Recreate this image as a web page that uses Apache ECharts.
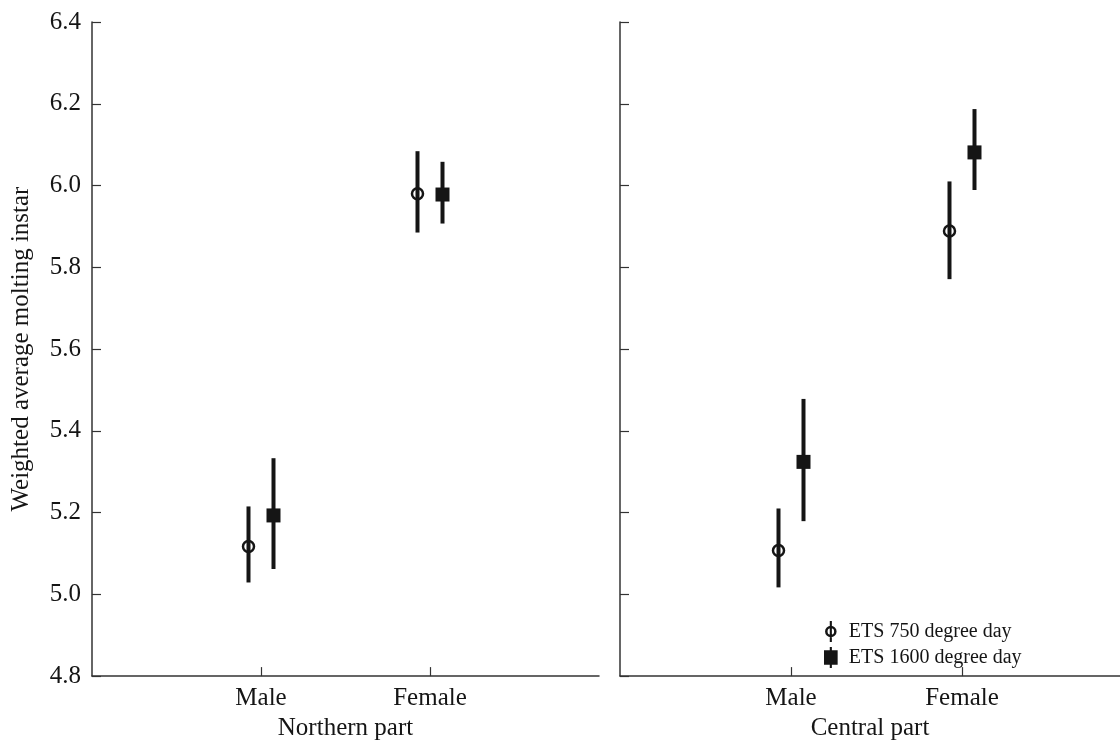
<!DOCTYPE html>
<html>
<head>
<meta charset="utf-8">
<script src="https://cdn.jsdelivr.net/npm/echarts@6/dist/echarts.min.js"></script>
<style>
  html, body { margin: 0; padding: 0; background: #fff; }
  #main { width: 1120px; height: 746px; }
</style>
</head>
<body>
<div id="main"></div>
<script>
// categories on the x axis (placed at 1 and 2)
var categories = ['Male', 'Female'];
var yTicks = [4.8, 5.0, 5.2, 5.4, 5.6, 5.8, 6.0, 6.2, 6.4];

// Northern part
var northMean750 = [5.117, 5.980];
var northLow750 = [5.029, 5.885];
var northHigh750 = [5.215, 6.084];
var northMean1600 = [5.193, 5.978];
var northLow1600 = [5.062, 5.907];
var northHigh1600 = [5.333, 6.058];

// Central part
var centralMean750 = [5.107, 5.889];
var centralLow750 = [5.017, 5.771];
var centralHigh750 = [5.210, 6.010];
var centralMean1600 = [5.324, 6.081];
var centralLow1600 = [5.179, 5.989];
var centralHigh1600 = [5.478, 6.187];

var serif = 'Liberation Serif';
var ink = '#151515';

function rows(mean, low, high) {
  return categories.map(function (c, i) {
    return [i + 1, mean[i], low[i], high[i]];
  });
}

// error bar + marker, shifted sideways by a few pixels
function makeRender(offset, kind) {
  return function (params, api) {
    var pm = api.coord([api.value(0), api.value(1)]);
    var pl = api.coord([api.value(0), api.value(2)]);
    var ph = api.coord([api.value(0), api.value(3)]);
    var cx = pm[0] + offset;
    var children = [{
      type: 'line',
      shape: { x1: cx, y1: ph[1], x2: cx, y2: pl[1] },
      style: { stroke: ink, lineWidth: 4 }
    }];
    if (kind === 'circle') {
      children.push({
        type: 'circle',
        shape: { cx: cx, cy: pm[1], r: 5.5 },
        style: { fill: null, stroke: ink, lineWidth: 2.5 }
      });
    } else {
      children.push({
        type: 'rect',
        shape: { x: cx - 7, y: pm[1] - 7, width: 14, height: 14 },
        style: { fill: ink }
      });
    }
    return { type: 'group', children: children };
  };
}

var iconCircle = 'path://M0 10A5.5 5.5 0 1 1 11 10A5.5 5.5 0 1 1 0 10Z M2.4 10A3.1 3.1 0 1 0 8.6 10A3.1 3.1 0 1 0 2.4 10Z M4.5 0L6.5 0L6.5 20L4.5 20Z';
var iconSquare = 'path://M5.5 0L7.5 0L7.5 3L13 3L13 17L7.5 17L7.5 20L5.5 20L5.5 17L0 17L0 3L5.5 3Z';

function xAxisFor(idx, max, name) {
  return {
    type: 'value', gridIndex: idx, min: 0, max: max, interval: 1,
    name: name, nameLocation: 'middle', nameGap: 38,
    nameTextStyle: { fontFamily: serif, fontSize: 25, color: ink },
    axisLine: { show: true, onZero: false, lineStyle: { color: '#333', width: 1.5 } },
    axisTick: { show: true, inside: true, length: 9, customValues: [1, 2], lineStyle: { color: '#333', width: 1.2 } },
    axisLabel: {
      customValues: [1, 2], margin: 10,
      fontFamily: serif, fontSize: 25, color: ink,
      formatter: function (v) { return categories[Math.round(v) - 1] || ''; }
    },
    splitLine: { show: false }
  };
}

function yAxisFor(idx, showLabels) {
  return {
    type: 'value', gridIndex: idx, min: yTicks[0], max: yTicks[yTicks.length - 1], interval: 0.2,
    name: showLabels ? 'Weighted average molting instar' : '',
    nameLocation: 'middle', nameGap: 58,
    nameTextStyle: { fontFamily: serif, fontSize: 25, color: ink },
    axisLine: { show: true, onZero: false, lineStyle: { color: '#333', width: 1.5 } },
    axisTick: { show: true, inside: true, length: 9, lineStyle: { color: '#333', width: 1.2 } },
    axisLabel: {
      show: showLabels, margin: 11,
      fontFamily: serif, fontSize: 25, color: ink,
      formatter: function (v) { return v.toFixed(1); }
    },
    splitLine: { show: false }
  };
}

var chart = echarts.init(document.getElementById('main'));
var option = {
  animation: false,
  backgroundColor: '#fff',
  grid: [
    { left: 92, top: 22, width: 507, height: 656 },
    { left: 620, top: 22, width: 500, height: 656 }
  ],
  xAxis: [
    xAxisFor(0, 3, 'Northern part'),
    xAxisFor(1, 2.924, 'Central part')
  ],
  yAxis: [
    yAxisFor(0, true),
    yAxisFor(1, false)
  ],
  legend: {
    orient: 'vertical',
    left: 819, top: 616,
    itemWidth: 26, itemHeight: 21, itemGap: 5,
    textStyle: { fontFamily: serif, fontSize: 20, color: ink, lineHeight: 21 },
    data: [
      { name: 'ETS 750 degree day', icon: iconCircle, itemStyle: { color: ink } },
      { name: 'ETS 1600 degree day', icon: iconSquare, itemStyle: { color: ink } }
    ]
  },
  series: [
    { name: 'ETS 750 degree day', type: 'custom', xAxisIndex: 0, yAxisIndex: 0,
      renderItem: makeRender(-12.5, 'circle'), itemStyle: { color: ink },
      data: rows(northMean750, northLow750, northHigh750) },
    { name: 'ETS 1600 degree day', type: 'custom', xAxisIndex: 0, yAxisIndex: 0,
      renderItem: makeRender(12.5, 'square'), itemStyle: { color: ink },
      data: rows(northMean1600, northLow1600, northHigh1600) },
    { name: 'ETS 750 degree day', type: 'custom', xAxisIndex: 1, yAxisIndex: 1,
      renderItem: makeRender(-12.5, 'circle'), itemStyle: { color: ink },
      data: rows(centralMean750, centralLow750, centralHigh750) },
    { name: 'ETS 1600 degree day', type: 'custom', xAxisIndex: 1, yAxisIndex: 1,
      renderItem: makeRender(12.5, 'square'), itemStyle: { color: ink },
      data: rows(centralMean1600, centralLow1600, centralHigh1600) }
  ]
};
chart.setOption(option);
</script>
</body>
</html>
